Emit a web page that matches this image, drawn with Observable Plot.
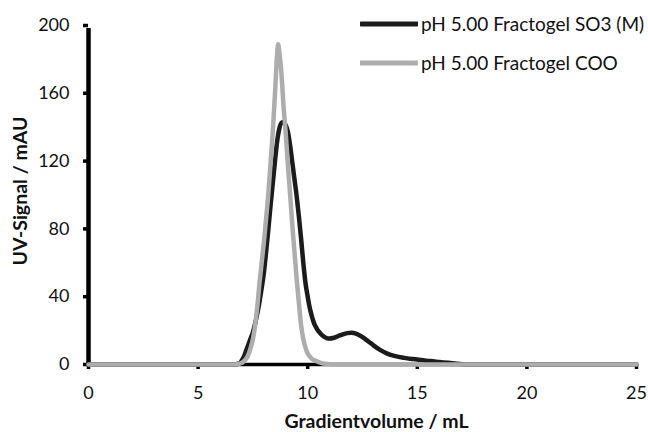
<!DOCTYPE html>
<html>
<head>
<meta charset="utf-8">
<script src="https://cdn.jsdelivr.net/npm/d3@7"></script>
<script src="https://cdn.jsdelivr.net/npm/@observablehq/plot@0.6"></script>
<style>
  body { margin: 0; background: #fff; }
  #chart { position: relative; width: 648px; height: 432px; font-family: Lato, "Open Sans", sans-serif; color: #111; }
  .legend { position: absolute; left: 360px; top: 10px; }
  .legend-row { display: flex; align-items: center; height: 27px; margin-bottom: 12px; font-size: 19px; white-space: nowrap; }
  .legend-row svg { margin-right: 3px; }
</style>
</head>
<body>
<div id="chart"></div>
<script>
// Series names and colours
const seriesNames = ["pH 5.00 Fractogel SO3 (M)", "pH 5.00 Fractogel COO"];
const seriesColors = ["#1b1b1b", "#adadad"];

// Fractogel SO3 (M): gradient volume (mL) and UV signal (mAU)
const volumeSO3 = [0, 6.6, 6.9,
  7.0, 7.1, 7.2, 7.3, 7.4, 7.5, 7.6, 7.7, 7.8, 7.9,
  8.0, 8.1, 8.2, 8.3, 8.4, 8.5, 8.6, 8.7, 8.8, 8.9,
  9.0, 9.1, 9.2, 9.3, 9.4, 9.5, 9.6, 9.7, 9.8, 9.9,
  10.0, 10.1, 10.2, 10.3, 10.4, 10.5, 10.6, 10.7, 10.8, 10.9, 11.0,
  11.2, 11.4, 11.6, 11.8, 12.0, 12.2, 12.4, 12.6, 12.8, 13.0,
  13.3, 13.6,
  14.0, 14.4, 14.8, 15.2, 15.6, 16.0, 16.4, 16.8,
  17.3, 25];
const signalSO3 = [0, 0, 0.8,
  2.5, 5, 8.5, 12, 15.5, 19, 24, 30, 37, 45,
  54, 66, 79, 93, 106, 119, 131, 139, 142.5, 143,
  141, 137, 129, 119, 109, 99, 87, 74, 60, 48,
  40, 33, 28, 24, 21.5, 19.5, 18, 16.8, 16, 15.4, 15.3,
  15.8, 16.8, 17.8, 18.5, 18.7, 18.2, 17, 15.3, 13.3, 11.3,
  8.6, 6.6,
  4.9, 3.9, 3.2, 2.6, 2.0, 1.5, 1.0, 0.5,
  0, 0];

// Fractogel COO: gradient volume (mL) and UV signal (mAU)
const volumeCOO = [0, 6.6, 6.9,
  7.0, 7.1, 7.2, 7.3, 7.4, 7.5, 7.6, 7.7, 7.8, 7.9,
  8.0, 8.1, 8.2, 8.3, 8.4, 8.5, 8.6, 8.65,
  8.7, 8.8, 8.9, 9.0, 9.1, 9.2, 9.3, 9.4, 9.5, 9.6, 9.7, 9.8, 9.9,
  10.0, 10.1, 10.2, 10.4, 10.6, 10.8, 11.2, 25];
const signalCOO = [0, 0, 0.5,
  1, 2, 3.5, 6, 10, 15, 23, 34, 48, 60,
  72, 86, 100, 118, 136, 158, 182, 189,
  185, 172, 152, 136, 117, 100, 82, 66, 50, 36, 23, 15, 10,
  6.5, 4.6, 3.3, 2, 1, 0.4, 0, 0];

// Axis ticks and titles
const xTicks = [0, 5, 10, 15, 20, 25];
const yTicks = [0, 40, 80, 120, 160, 200];
const xTitle = "Gradientvolume / mL";
const yTitle = "UV-Signal / mAU";

const so3 = volumeSO3.map((v, i) => ({volume: v, signal: signalSO3[i]}));
const coo = volumeCOO.map((v, i) => ({volume: v, signal: signalCOO[i]}));

const chart = Plot.plot({
  width: 648,
  height: 432,
  marginLeft: 88,
  marginRight: 12,
  marginTop: 25,
  marginBottom: 68,
  style: {fontFamily: "Lato, 'Open Sans', sans-serif", fontSize: "18px", color: "#111", background: "#fff"},
  x: {domain: [0, 25]},
  y: {domain: [0, 200]},
  marks: [
    Plot.axisX({ticks: xTicks, tickSize: 5, tickPadding: 17, strokeWidth: 3.5, stroke: "#000", fontSize: 18, label: null}),
    Plot.axisY({ticks: yTicks, tickSize: 5, tickPadding: 14, strokeWidth: 3.5, stroke: "#000", fontSize: 18, label: null}),
    Plot.ruleY([0], {stroke: "#000", strokeWidth: 3.5}),
    Plot.ruleX([0], {y1: 0, y2: 200, stroke: "#000", strokeWidth: 4.5, insetBottom: -3}),
    Plot.line(so3, {x: "volume", y: "signal", stroke: seriesColors[0], strokeWidth: 4.5, curve: "monotone-x"}),
    Plot.line(coo, {x: "volume", y: "signal", stroke: seriesColors[1], strokeWidth: 4.5, curve: "monotone-x"}),
    Plot.text([xTitle], {frameAnchor: "bottom", textAnchor: "middle", lineAnchor: "middle", dx: 14, dy: 57, fontWeight: "bold", fontSize: 19.5, fill: "#111"}),
    Plot.text([yTitle], {frameAnchor: "left", textAnchor: "middle", lineAnchor: "middle", dx: -68, dy: -4, rotate: -90, fontWeight: "bold", fontSize: 19.5, fill: "#111"})
  ]
});

const root = document.getElementById("chart");
root.appendChild(chart);

// Legend drawn over the upper-right corner of the plot
const legend = document.createElement("div");
legend.className = "legend";
seriesNames.forEach((name, i) => {
  const row = document.createElement("div");
  row.className = "legend-row";
  row.innerHTML = `<svg width="58" height="8"><line x1="1" x2="57" y1="4" y2="4" stroke="${seriesColors[i]}" stroke-width="5" stroke-linecap="round"/></svg><span>${name}</span>`;
  legend.appendChild(row);
});
root.appendChild(legend);
</script>
</body>
</html>
